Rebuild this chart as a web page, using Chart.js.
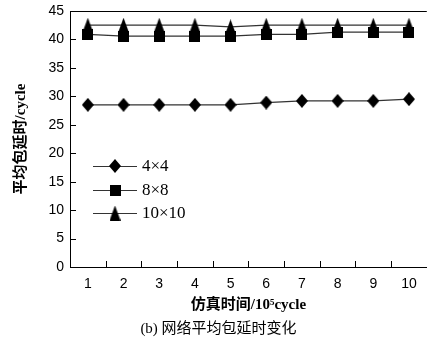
<!DOCTYPE html>
<html>
<head>
<meta charset="utf-8">
<script src="https://cdn.jsdelivr.net/npm/chart.js@4/dist/chart.umd.min.js"></script>
<style>
html,body{margin:0;padding:0;background:#fff;overflow:hidden;}
canvas{display:block;}
</style>
</head>
<body>
<canvas id="c" width="435" height="344"></canvas>
<script>
// ---- data ----
const categories = ['1','2','3','4','5','6','7','8','9','10'];
const series4x4   = [28.5, 28.5, 28.5, 28.5, 28.5, 28.9, 29.2, 29.2, 29.2, 29.5];
const series8x8   = [40.9, 40.6, 40.6, 40.6, 40.6, 40.9, 40.9, 41.3, 41.3, 41.3];
const series10x10 = [42.5, 42.5, 42.5, 42.5, 42.2, 42.5, 42.5, 42.5, 42.5, 42.5];
const seriesNames = ['4×4', '8×8', '10×10'];
const yTicks = [0, 5, 10, 15, 20, 25, 30, 35, 40, 45];

// ---- marker images ----
function mk(w, h, draw) {
  const c = document.createElement('canvas');
  c.width = w; c.height = h;
  const g = c.getContext('2d');
  g.fillStyle = '#000';
  g.beginPath(); draw(g, w, h); g.closePath(); g.fill();
  return c;
}
const diamond = mk(12, 14, (g, w, h) => { g.moveTo(w/2, 0); g.lineTo(w, h/2); g.lineTo(w/2, h); g.lineTo(0, h/2); });
const square = mk(11, 11, (g, w, h) => { g.rect(0, 0, w, h); });
const triangle = mk(11, 15, (g, w, h) => { g.moveTo(w/2, 0); g.lineTo(w, h); g.lineTo(0, h); });
const markers = [diamond, square, triangle];

const LINE = '#333';
function ds(label, data, m) {
  return {
    label, data,
    borderColor: LINE, borderWidth: 1.2,
    pointStyle: m, pointRadius: 7, pointHoverRadius: 7,
    backgroundColor: '#000', tension: 0
  };
}

const frameAndLegend = {
  id: 'frameAndLegend',
  afterDraw(chart) {
    const ctx = chart.ctx;
    const a = chart.chartArea;
    const xs = chart.scales.x, ys = chart.scales.y;
    ctx.save();
    ctx.strokeStyle = '#000';
    ctx.lineWidth = 1;
    // top border
    ctx.beginPath();
    ctx.moveTo(a.left, Math.round(a.top) + 0.5);
    ctx.lineTo(a.right, Math.round(a.top) + 0.5);
    ctx.stroke();
    // inward y ticks
    yTicks.forEach(v => {
      if (v === 0 || v === 45) return;
      const y = Math.round(ys.getPixelForValue(v)) + 0.5;
      ctx.beginPath(); ctx.moveTo(a.left, y); ctx.lineTo(a.left + 6, y); ctx.stroke();
    });
    // inward x ticks between categories
    const half = (xs.getPixelForValue(1) - xs.getPixelForValue(0)) / 2;
    for (let i = 0; i < categories.length - 1; i++) {
      const x = Math.round(xs.getPixelForValue(i) + half) + 0.5;
      ctx.beginPath(); ctx.moveTo(x, a.bottom); ctx.lineTo(x, a.bottom - 6); ctx.stroke();
    }
    // legend
    const rows = [166, 190, 213];
    chart.data.datasets.forEach((d, i) => {
      const y = rows[i];
      ctx.strokeStyle = LINE; ctx.lineWidth = 1.2;
      ctx.beginPath(); ctx.moveTo(93, y + 0.5); ctx.lineTo(137, y + 0.5); ctx.stroke();
      const m = d.pointStyle;
      ctx.drawImage(m, 115 - m.width / 2, y - m.height / 2);
      ctx.fillStyle = '#000';
      ctx.font = '17px "Liberation Serif", "Times New Roman", serif';
      ctx.textBaseline = 'middle';
      ctx.textAlign = 'left';
      ctx.fillText(d.label, 142, y + 1);
    });
    ctx.restore();
  }
};

new Chart(document.getElementById('c'), {
  type: 'line',
  data: {
    labels: categories,
    datasets: [
      ds(seriesNames[0], series4x4, markers[0]),
      ds(seriesNames[1], series8x8, markers[1]),
      ds(seriesNames[2], series10x10, markers[2])
    ]
  },
  options: {
    responsive: false,
    devicePixelRatio: 1,
    animation: false,
    events: [],
    layout: { padding: { top: 11, right: -2, left: 0, bottom: 6 } },
    plugins: {
      legend: { display: false },
      tooltip: { enabled: false },
      title: {
        display: true,
        position: 'bottom',
        text: '(b) 网络平均包延时变化',
        color: '#000',
        font: { family: '"Liberation Serif", "Noto Sans CJK SC", serif', size: 15, weight: 'normal' },
        padding: { top: 6, bottom: 0 }
      }
    },
    scales: {
      x: {
        type: 'category',
        offset: true,
        afterFit: s => { s.paddingLeft = 0; s.paddingRight = 0; },
        grid: { display: true, drawOnChartArea: false, drawTicks: false, offset: true, color: 'rgba(0,0,0,0)' },
        border: { display: true, color: '#000', width: 1 },
        ticks: { color: '#000', font: { family: '"Liberation Sans", Arial, sans-serif', size: 14, lineHeight: 1 }, padding: 10, maxRotation: 0 },
        title: {
          display: true,
          text: '仿真时间/10⁵cycle',
          color: '#000',
          font: { family: '"Liberation Serif", "Noto Sans CJK SC", serif', size: 15, weight: 'bold' },
          padding: { top: -5, bottom: 0 }
        }
      },
      y: {
        min: 0, max: 45,
        afterBuildTicks: s => { s.ticks = yTicks.map(v => ({ value: v })); },
        afterFit: s => { s.width = 70; s.paddingTop = 0; s.paddingBottom = 0; },
        grid: { display: true, drawOnChartArea: false, drawTicks: false, color: 'rgba(0,0,0,0)' },
        border: { display: true, color: '#000', width: 1 },
        ticks: { color: '#000', font: { family: '"Liberation Sans", Arial, sans-serif', size: 14 }, padding: 6 },
        title: {
          display: true,
          text: '平均包延时/cycle',
          color: '#000',
          font: { family: '"Liberation Serif", "Noto Sans CJK SC", serif', size: 15, weight: 'bold' },
          padding: { top: 12, bottom: 0 }
        }
      }
    }
  },
  plugins: [frameAndLegend]
});
</script>
</body>
</html>
